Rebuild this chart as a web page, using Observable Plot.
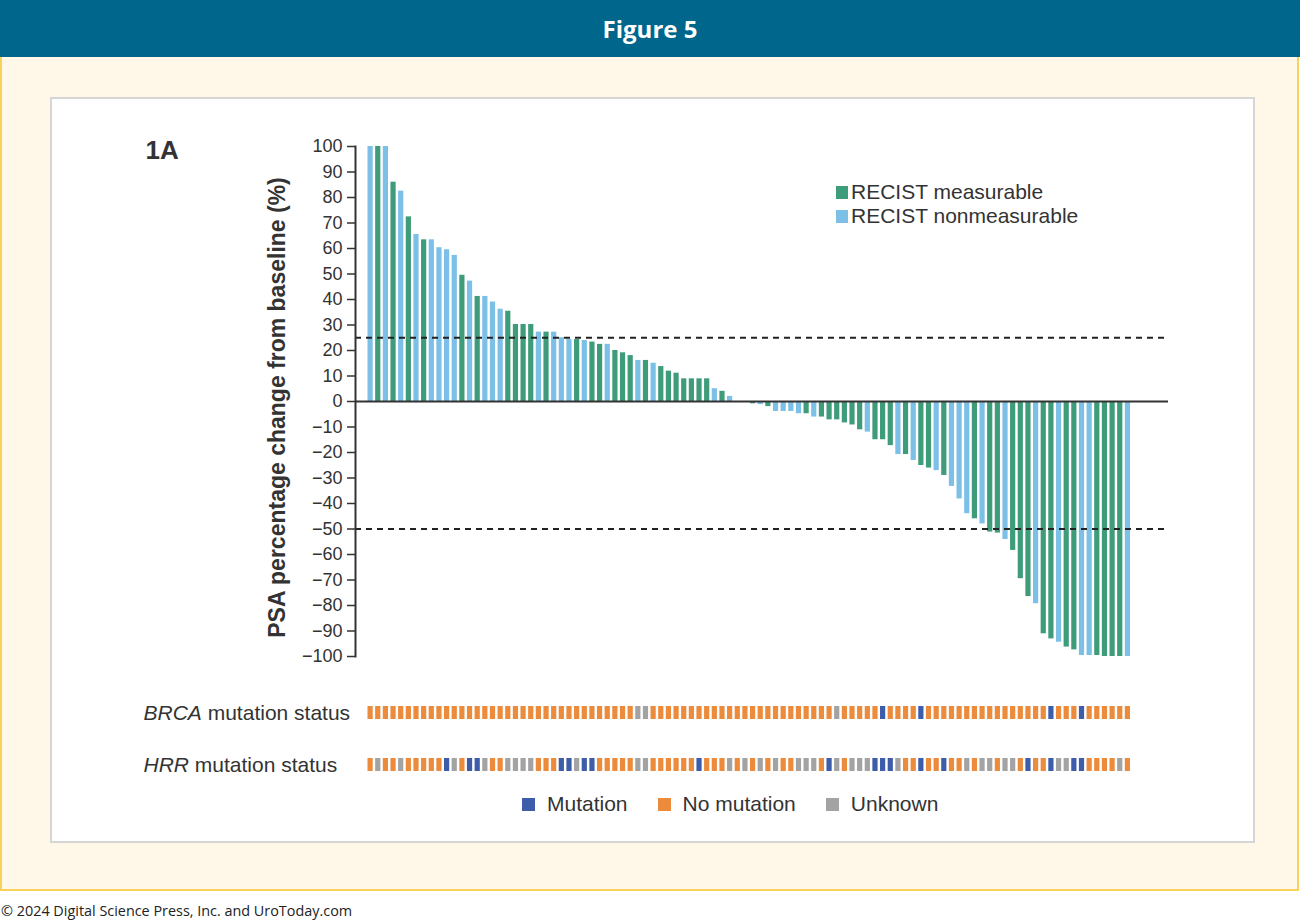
<!DOCTYPE html>
<html><head><meta charset="utf-8">
<script src="https://cdn.jsdelivr.net/npm/d3@7"></script>
<script src="https://cdn.jsdelivr.net/npm/@observablehq/plot@0.6"></script>
<style>
body{margin:0;background:#fff;}
#page{position:relative;width:1300px;height:922px;overflow:hidden;font-family:"Liberation Sans",Arial,sans-serif;}
#header{position:absolute;left:0;top:0;width:1300px;height:57px;background:#00668b;color:#fff;font-family:"Open Sans",sans-serif;font-weight:700;font-size:24px;display:flex;align-items:center;justify-content:center;}
#box{position:absolute;left:0;top:57px;width:1299px;height:834px;box-sizing:border-box;background:#fff8e9;border:2.5px solid #f8d25a;border-top:none;}
#panel{position:absolute;left:50px;top:97px;width:1205px;height:746px;box-sizing:border-box;background:#fff;border:2px solid #d6d6d6;}
#footer{position:absolute;left:1px;top:901px;font-family:"Open Sans",sans-serif;font-size:14.4px;color:#222;}
.layer{position:absolute;left:0;}
.leg{position:absolute;font-size:21px;color:#333;white-space:nowrap;}
.leg .row{display:flex;align-items:center;}
.leg .sw{display:inline-block;width:12px;height:13px;margin-right:3px;}
</style>
</head><body>
<div id="page">
  <div id="header">Figure 5</div>
  <div id="box"></div>
  <div id="panel"></div>
  <div id="footer">© 2024 Digital Science Press, Inc. and UroToday.com</div>
</div>
<script>
// PSA percentage change from baseline (%), ordered as in the waterfall
const psaChange = [100,100,100,86,82.5,72.4,65.5,63.4,63.4,60.3,59.5,57.3,49.5,47.2,41.2,41.2,39,36.2,35.4,30.2,
30.2,30.2,27.2,27.2,27.2,25,24.3,24.3,23.9,23.3,22.4,22.4,20,19.1,18,16.1,16.1,15,13.7,11.9,
11.1,8.9,8.9,8.9,8.9,5,4,2,0,0,-0.9,-1.2,-2,-3.9,-3.9,-3.9,-4.8,-4.8,-6.1,-6.1,
-7.2,-7.2,-8.4,-9.2,-11.1,-12,-15,-15,-17.3,-20.8,-20.8,-23.1,-25.1,-26.1,-27.1,-29,-33.3,-38.2,-44,-46,
-48,-51.2,-51.6,-54.1,-58.4,-69.5,-76.5,-79.3,-91.1,-93.1,-94.4,-96.3,-97.4,-99.6,-99.6,-99.6,-100,-100,-100,-100];
// RECIST: M = measurable, N = nonmeasurable
const recist = ["N","M","N","M","N","M","N","M","N","N","N","N","M","N","M","N","N","N","M","M",
"M","M","N","M","N","N","N","M","N","M","M","N","M","M","M","N","M","N","M","M",
"M","M","M","M","M","N","M","N","M","N","M","N","M","N","N","N","N","M","N","M",
"M","M","M","M","M","N","M","M","M","N","M","N","M","M","N","M","N","N","N","M",
"N","M","M","N","M","M","M","N","M","M","N","M","M","N","N","M","M","M","M","N"];
// Mutation status: M = Mutation, N = No mutation, U = Unknown
const brcaStatus = ["N","N","N","N","N","N","N","N","N","N","N","N","N","N","N","N","N","N","N","N",
"N","N","N","N","N","N","N","N","N","N","N","N","N","N","N","U","U","N","N","N",
"N","N","N","N","N","N","N","N","N","N","N","N","N","N","N","N","N","N","N","N",
"N","U","N","N","N","N","N","M","N","N","N","N","M","N","N","N","N","N","N","N",
"N","N","N","N","N","N","N","N","N","M","N","N","N","M","N","N","N","N","N","N"];
const hrrStatus = ["N","U","N","N","U","N","N","N","N","N","M","U","N","M","M","U","N","N","U","U",
"U","U","N","N","N","M","M","U","M","M","N","N","N","N","N","U","U","N","N","N",
"N","N","N","M","N","N","N","U","N","U","N","U","N","U","N","N","U","U","U","N",
"M","U","N","U","U","U","M","M","M","U","N","N","M","N","N","M","N","N","U","N",
"U","U","N","U","U","N","M","N","N","M","U","U","M","M","N","N","N","N","U","N"];

const recistNames = {M: "RECIST measurable", N: "RECIST nonmeasurable"};
const recistColors = ["#3f9c7a", "#7cbfe7"];
const statusNames = {M: "Mutation", N: "No mutation", U: "Unknown"};
const statusColors = ["#3d5daa", "#ec8b3b", "#a3a3a3"];
const yTicks = [-100,-90,-80,-70,-60,-50,-40,-30,-20,-10,0,10,20,30,40,50,60,70,80,90,100];
const thresholds = [25, -50];

const ids = psaChange.map((_, i) => i + 1);
const rows = ids.map((id, i) => ({
  id, value: psaChange[i], recist: recistNames[recist[i]],
  brca: statusNames[brcaStatus[i]], hrr: statusNames[hrrStatus[i]]
}));

const font = "'Liberation Sans', Arial, sans-serif";
const xScale = {type: "band", domain: ids, range: [367.5, 1130], paddingInner: 0.32, paddingOuter: 0, axis: null};
const page = document.getElementById("page");

const main = Plot.plot({
  width: 1300, height: 700,
  marginLeft: 355, marginRight: 132, marginTop: 146, marginBottom: 44,
  style: {fontFamily: font, background: "transparent", overflow: "visible", color: "#333"},
  x: xScale,
  y: {domain: [-100, 100], axis: null},
  color: {domain: Object.values(recistNames), range: recistColors},
  marks: [
    Plot.barY(rows, {x: "id", y: "value", fill: "recist"}),
    Plot.ruleY(thresholds, {stroke: "#222", strokeWidth: 1.8, strokeDasharray: "6,5"}),
    Plot.ruleY([0], {stroke: "#333", strokeWidth: 2}),
    Plot.frame({anchor: "left", stroke: "#333", strokeWidth: 2}),
    Plot.axisY({ticks: yTicks, tickSize: 8, tickPadding: 5, fontSize: 18, color: "#333", strokeWidth: 1.5, label: null}),
    Plot.text(["PSA percentage change from baseline (%)"], {frameAnchor: "left", textAnchor: "middle", rotate: -90, dx: -78, dy: 6, fontSize: 23, fontWeight: "bold", fill: "#333"}),
    Plot.text(["1A"], {frameAnchor: "top-left", dx: -210, dy: -6, fontSize: 26, fontWeight: "bold", textAnchor: "start", fill: "#333"})
  ]
});
main.classList.add("layer"); main.style.top = "0px";
page.appendChild(main);

function strip(key, labelText, top) {
  const p = Plot.plot({
    width: 1300, height: 40,
    marginLeft: 355, marginRight: 132, marginTop: 16, marginBottom: 11,
    style: {fontFamily: font, background: "transparent", overflow: "visible"},
    x: xScale,
    color: {domain: Object.values(statusNames), range: statusColors},
    marks: [
      Plot.cell(rows, {x: "id", fill: key, inset: 0}),
      Plot.text([labelText], {frameAnchor: "left", dx: -212, fontSize: 21, fill: "#333", textAnchor: "start", text: d => d})
    ]
  });
  // italicize the gene name
  const t = p.querySelector("g[aria-label='text'] text");
  if (t) {
    const txt = t.textContent; const gene = txt.split(" ")[0];
    t.textContent = "";
    const a = document.createElementNS("http://www.w3.org/2000/svg", "tspan");
    a.setAttribute("font-style", "italic"); a.textContent = gene;
    const b = document.createElementNS("http://www.w3.org/2000/svg", "tspan");
    b.textContent = txt.slice(gene.length);
    t.appendChild(a); t.appendChild(b);
  }
  p.classList.add("layer"); p.style.top = top + "px";
  page.appendChild(p);
}
strip("brca", "BRCA mutation status", 690);
strip("hrr", "HRR mutation status", 742);

function legend(names, colors, left, top, horizontal, gap) {
  const d = document.createElement("div");
  d.className = "leg";
  d.style.left = left + "px"; d.style.top = top + "px";
  if (horizontal) { d.style.display = "flex"; d.style.gap = gap + "px"; }
  names.forEach((n, i) => {
    const r = document.createElement("div"); r.className = "row";
    if (!horizontal) r.style.height = "24px";
    const s = document.createElement("span"); s.className = "sw"; s.style.background = colors[i];
    if (horizontal) { s.style.width = "13px"; s.style.marginRight = "12px"; }
    r.appendChild(s); r.appendChild(document.createTextNode(n));
    d.appendChild(r);
  });
  page.appendChild(d);
}
legend(Object.values(recistNames), recistColors, 836, 180, false, 0);
legend(Object.values(statusNames), statusColors, 522, 792, true, 30);
</script>
</body></html>
